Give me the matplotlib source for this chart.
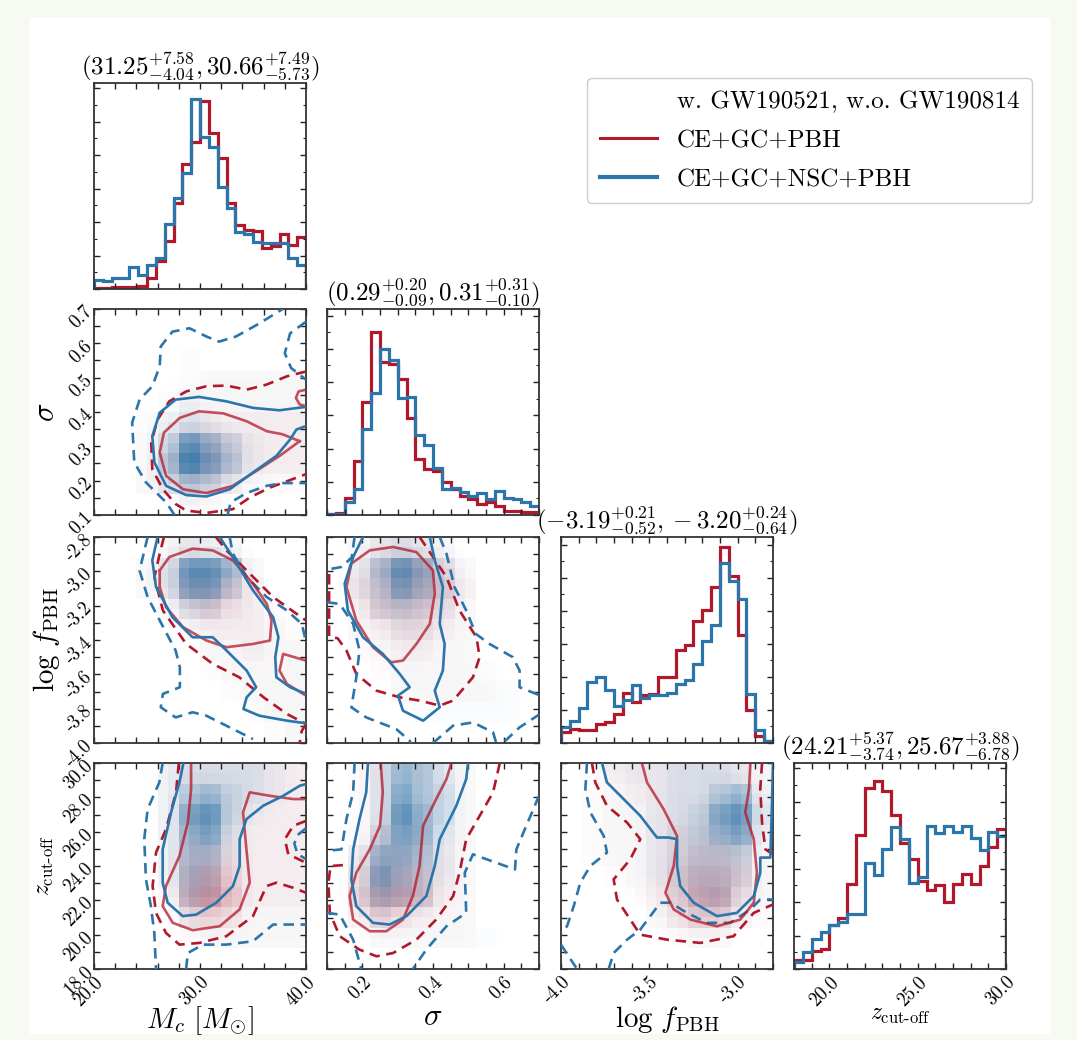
import numpy as np
import matplotlib
matplotlib.use("Agg")
import matplotlib.pyplot as plt
from matplotlib.colors import LinearSegmentedColormap, to_rgb
from matplotlib.lines import Line2D
from matplotlib.patches import Rectangle
from matplotlib.ticker import FixedLocator, FuncFormatter, MaxNLocator, AutoMinorLocator

plt.rcParams['font.family'] = 'serif'
plt.rcParams['font.serif'] = ['cmr10', 'DejaVu Serif']
plt.rcParams['mathtext.fontset'] = 'cm'
plt.rcParams['axes.unicode_minus'] = False

RED = '#b2182b'
BLUE = '#2b75aa'

# ---------------- parameters ----------------
PARAMS = ['mc', 'sig', 'logf', 'z']
LIMS = {'mc': (20.0, 40.0), 'sig': (0.1, 0.7), 'logf': (-4.0, -2.8), 'z': (18.0, 30.0)}
TICK_STEP = {'mc': 2.0, 'sig': 0.05, 'logf': 0.1, 'z': 1.0}
XLABELS_AT = {'mc': [20, 30, 40], 'sig': [0.2, 0.4, 0.6], 'logf': [-4.0, -3.5, -3.0], 'z': [20, 25, 30]}
YLABELS_AT = {'sig': [0.1, 0.2, 0.3, 0.4, 0.5, 0.6, 0.7],
              'logf': [-2.8, -3.0, -3.2, -3.4, -3.6, -3.8, -4.0],
              'z': [18, 20, 22, 24, 26, 28, 30]}
FMT = {'mc': '{:.1f}', 'sig': '{:.1f}', 'logf': '{:.1f}', 'z': '{:.1f}'}
AXLABEL = {'mc': r'$M_c\ [M_{\odot}]$', 'sig': r'$\sigma$',
           'logf': r'$\log\, f_{\rm PBH}$', 'z': r'$z_{\text{cut-off}}$'}
AXLABEL_SIZE = {'mc': 21, 'sig': 22, 'logf': 21, 'z': 17}
YLABEL_X = {'sig': -0.16, 'logf': -0.15, 'z': -0.18}

# medians and errors (red, blue)
TITLE_VALS = {
    'mc': [(31.25, 7.58, 4.04), (30.66, 7.49, 5.73)],
    'sig': [(0.29, 0.20, 0.09), (0.31, 0.31, 0.10)],
    'logf': [(-3.19, 0.21, 0.52), (-3.20, 0.24, 0.64)],
    'z': [(24.21, 5.37, 3.74), (25.67, 3.88, 6.78)],
}

# ---------------- 1D histograms (24 bins over the axis range) ----------------
MC_RED = [3, 3, 5, 5, 5, 8, 33, 83, 143, 258, 373, 438, 561, 465, 390, 258,
          190, 176, 173, 123, 128, 163, 130, 155]
MC_BLUE = [28, 23, 33, 33, 65, 43, 73, 93, 195, 273, 345, 568, 455, 425, 305, 243,
           170, 163, 140, 138, 136, 136, 93, 73]
SIG_RED = [3, 5, 50, 163, 340, 550, 460, 453, 408, 293, 168, 138, 133, 98, 78, 58,
           48, 33, 38, 26, 13, 13, 10, 10]
SIG_BLUE = [3, 3, 38, 78, 258, 368, 500, 466, 351, 355, 241, 211, 141, 78, 80, 70,
            56, 66, 48, 71, 51, 48, 38, 26]
LOGF_RED = [33, 43, 40, 38, 56, 63, 88, 150, 123, 146, 148, 200, 200, 281, 296, 370,
            403, 472, 593, 506, 328, 100, 20, 6]
LOGF_BLUE = [48, 66, 106, 183, 200, 160, 113, 130, 176, 136, 145, 145, 151, 178, 191, 238,
             308, 358, 543, 490, 436, 148, 38, 6]
Z_RED = [27, 27, 55, 60, 130, 153, 255, 400, 540, 560, 532, 460, 375, 327, 262, 235,
         250, 200, 255, 283, 255, 308, 365, 417]
Z_BLUE = [20, 50, 90, 110, 130, 140, 165, 165, 317, 280, 357, 423, 387, 257, 275, 427,
          405, 427, 410, 427, 390, 355, 410, 397]
HISTS = {'mc': (MC_RED, MC_BLUE), 'sig': (SIG_RED, SIG_BLUE),
         'logf': (LOGF_RED, LOGF_BLUE), 'z': (Z_RED, Z_BLUE)}
HIST_TOP = {'mc': 615, 'sig': 620, 'logf': 623, 'z': 615}

# ---------------- 2D shading (10x10 cells, top row first, levels 0-9) ----------------
MS_BLUE_D = ["0000000000", "0000000000", "0000100000", "0000111111", "0001211111",
             "0012321111", "0014864211", "0015975211", "0013542100", "0000100000"]
MS_RED_D = ["0000000000", "0000000000", "0000000000", "0000011111", "0000111111",
            "0001222222", "0012443222", "0013553222", "0012332111", "0000110000"]
ML_BLUE_D = ["0001221000", "0013886100", "0013774100", "0001331100", "0000111110",
             "0000011111", "0000001111", "0000000111", "0000000011", "0000000001"]
ML_RED_D = ["0001211000", "0012443100", "0012554200", "0001343210", "0000122211",
            "0000011211", "0000011111", "0000001111", "0000000111", "0000000011"]
SL_BLUE_D = ["0123210000", "0258631000", "0247531000", "0134321000", "0112211000",
             "0011111000", "0001111100", "0001111110", "0000111110", "0000000000"]
SL_RED_D = ["0122210000", "0245531000", "0345542000", "0244431000", "0123321000",
            "0112211000", "0011111000", "0001111100", "0000000000", "0000000000"]
MZ_BLUE_D = ["0002333321", "0002564321", "0002784211", "0002673111", "0002552111",
             "0002541111", "0001431111", "0000211111", "0000011111", "0000000000"]
MZ_RED_D = ["0001222222", "0001222222", "0001332222", "0001332222", "0001443222",
            "0001564222", "0001675222", "0000343111", "0000111111", "0000000000"]
SZ_BLUE_D = ["0036531000", "0037541000", "0038641000", "0047631000", "0266521000",
             "0275421000", "0254311000", "0121111000", "0011111100", "0000000000"]
SZ_RED_D = ["0122211000", "0122211000", "0123211000", "0133311000", "0244321000",
            "0355421000", "0466521000", "0243211000", "0011111000", "0000000000"]
LZ_BLUE_D = ["0012233321", "0011233562", "0011234783", "0011234672", "0011234441",
             "0001234431", "0000123421", "0000112210", "0000001100", "0000000000"]
LZ_RED_D = ["0122222221", "0112222221", "0111222331", "0111233331", "0111234431",
            "0011245541", "0001246631", "0000134421", "0000011100", "0000000000"]

# ---------------- contour lines (data coordinates) ----------------
# Mc - sigma
MS_B_SOLID = [(40, 0.415), (37.5, 0.405), (35.0, 0.412), (32.5, 0.431), (29.9, 0.444), (27.7, 0.436),
              (26.2, 0.398), (25.5, 0.33), (25.7, 0.253), (26.8, 0.185), (28.7, 0.158), (30.6, 0.154),
              (32.8, 0.175), (35.0, 0.224), (37.2, 0.272), (38.5, 0.32), (39.1, 0.349), (40, 0.359)]
MS_R_SOLID = [(39.4, 0.315), (37.8, 0.335), (36.3, 0.344), (34.4, 0.373), (32.2, 0.396), (29.9, 0.402),
              (28.1, 0.383), (26.6, 0.34), (26.2, 0.282), (26.8, 0.214), (28.4, 0.175), (30.6, 0.164),
              (33.1, 0.185), (35.3, 0.228), (37.5, 0.272), (39.4, 0.315)]
MS_R_SOLID2 = [(40, 0.465), (39.3, 0.46), (39.05, 0.441), (39.4, 0.422), (40, 0.417)]
MS_B_DASH = [(27.6, 0.1), (26.8, 0.137), (24.9, 0.195), (23.8, 0.253), (23.6, 0.369), (24.3, 0.436),
             (25.5, 0.475), (26.2, 0.533), (26.3, 0.591), (27.4, 0.634), (29.0, 0.644), (30.6, 0.62),
             (31.8, 0.605), (33.4, 0.62), (35.6, 0.658), (37.8, 0.7)]
MS_B_DASH2 = [(40, 0.663), (38.5, 0.629), (38.0, 0.571), (38.6, 0.528), (40, 0.494)]
MS_B_DASH3 = [(32.6, 0.1), (32.9, 0.137), (34.4, 0.164), (36.3, 0.185), (37.8, 0.193), (40, 0.193)]
MS_R_DASH = [(40, 0.518), (38.2, 0.504), (36.3, 0.48), (34.4, 0.465), (32.5, 0.477), (30.6, 0.475),
             (28.7, 0.46), (27.1, 0.431), (26.0, 0.378), (25.4, 0.311), (25.5, 0.233), (26.5, 0.175),
             (27.7, 0.132), (28.7, 0.113), (30.6, 0.106), (33.1, 0.117), (34.7, 0.151), (36.6, 0.18),
             (40, 0.219)]

# Mc - log f
ML_B_SOLID = [(26.0, -2.8), (25.5, -2.936), (25.85, -3.091), (27.4, -3.267), (29.3, -3.384), (31.2, -3.384),
              (32.5, -3.461), (34.4, -3.578), (35.3, -3.675), (34.4, -3.734), (34.1, -3.802), (35.6, -3.841),
              (38.2, -3.87), (40, -3.885)]
ML_B_SOLID2 = [(31.85, -2.8), (33.1, -2.917), (35.0, -3.111), (36.9, -3.267), (37.4, -3.384), (37.1, -3.5),
               (37.2, -3.617), (38.5, -3.675), (40, -3.714)]
ML_R_SOLID = [(26.2, -2.995), (27.1, -2.917), (29.3, -2.868), (31.2, -2.878), (33.1, -2.936), (35.0, -3.072),
              (36.3, -3.189), (36.75, -3.286), (36.6, -3.403), (35.0, -3.423), (32.5, -3.442), (30.6, -3.403),
              (28.4, -3.325), (26.8, -3.209), (26.2, -3.092), (26.2, -2.995)]
ML_R_SOLID2 = [(40, -3.52), (37.85, -3.481), (37.5, -3.578), (38.2, -3.656), (40, -3.724)]
ML_B_DASH = [(25.06, -2.8), (24.3, -2.995), (25.06, -3.15), (26.2, -3.286), (27.7, -3.461), (28.1, -3.559),
             (28.1, -3.675), (26.5, -3.714), (26.3, -3.792), (27.7, -3.851), (29.3, -3.821), (30.6, -3.841),
             (32.8, -3.909), (35.0, -3.977)]
ML_B_DASH2 = [(32.8, -2.8), (33.1, -2.897), (34.4, -3.033), (36.3, -3.15), (38.2, -3.228), (39.6, -3.306),
              (39.9, -3.384)]
ML_R_DASH = [(26.6, -2.8), (26.2, -2.897), (25.7, -3.033), (26.5, -3.228), (28.7, -3.423), (31.2, -3.539),
             (33.7, -3.617), (36.0, -3.734), (38.2, -3.831), (40, -3.889)]
ML_R_DASH2 = [(31.5, -2.8), (32.5, -2.878), (34.4, -2.995), (36.9, -3.15), (39.1, -3.247), (40, -3.286)]
ML_R_DASH3 = [(40, -3.89), (39.6, -3.93), (39.4, -4.0)]

# sigma - log f
SL_B_SOLID = [(0.202, -2.8), (0.174, -2.917), (0.15, -3.072), (0.159, -3.228), (0.202, -3.384), (0.258, -3.481),
              (0.306, -3.598), (0.334, -3.675), (0.301, -3.724), (0.315, -3.812), (0.372, -3.87), (0.419, -3.792),
              (0.405, -3.695), (0.428, -3.578), (0.433, -3.423), (0.419, -3.306), (0.428, -3.092), (0.405, -2.936),
              (0.391, -2.8)]
SL_R_SOLID = [(0.155, -3.092), (0.169, -2.955), (0.221, -2.878), (0.287, -2.858), (0.353, -2.888), (0.4, -2.995),
              (0.405, -3.131), (0.391, -3.306), (0.353, -3.423), (0.315, -3.52), (0.282, -3.53), (0.23, -3.442),
              (0.183, -3.286), (0.155, -3.092)]
SL_R_DASH = [(0.362, -2.8), (0.381, -2.858), (0.438, -3.033), (0.475, -3.228), (0.523, -3.384), (0.532, -3.5),
             (0.513, -3.617), (0.457, -3.753), (0.419, -3.782), (0.362, -3.753), (0.306, -3.734), (0.24, -3.695),
             (0.183, -3.598), (0.155, -3.461), (0.13, -3.39), (0.106, -3.38), (0.106, -3.0), (0.1, -2.99)]
SL_B_DASH = [(0.178, -2.8), (0.17, -2.92), (0.14, -2.975), (0.1, -2.99)]
SL_B_DASH2 = [(0.1, -3.18), (0.136, -3.19), (0.174, -3.306), (0.192, -3.461), (0.183, -3.617), (0.169, -3.792),
              (0.211, -3.851), (0.296, -3.919), (0.334, -3.987), (0.337, -4.0)]
SL_B_DASH3 = [(0.4, -4.0), (0.457, -3.899), (0.513, -3.88), (0.57, -3.938), (0.579, -4.0)]
SL_B_DASH4 = [(0.419, -2.8), (0.438, -2.897), (0.461, -3.092), (0.494, -3.228), (0.521, -3.364), (0.56, -3.423),
              (0.626, -3.5), (0.645, -3.578), (0.645, -3.675), (0.692, -3.714), (0.7, -3.72)]
SL_B_DASH5 = [(0.603, -3.99), (0.645, -3.909), (0.7, -3.835)]

# Mc - z
MZ_B_SOLID = [(28.44, 30), (28.06, 28.87), (27.27, 27.12), (26.48, 24.97), (26.48, 23.03), (26.95, 21.86),
              (28.37, 21.08), (29.64, 21.17), (31.53, 21.86), (33.11, 22.83), (33.74, 24.0), (33.74, 25.56),
              (34.38, 26.73), (35.96, 27.51), (37.85, 28.09), (39.43, 28.68), (40, 28.77)]
MZ_R_SOLID = [(29.16, 30), (29.16, 28.48), (28.85, 26.53), (28.06, 24.58), (26.79, 22.83), (26.48, 21.66),
              (27.43, 20.69), (29.32, 20.26), (31.85, 20.49), (33.74, 21.47), (34.69, 23.03), (34.38, 24.97),
              (34.06, 27.12), (34.69, 28.29), (36.59, 28.09), (38.8, 27.9), (40, 27.9)]
MZ_R_DASH = [(28.0, 30), (27.74, 28.29), (26.79, 26.14), (25.85, 24.78), (25.53, 22.83), (25.85, 21.27),
             (26.79, 20.1), (28.06, 19.42), (29.95, 19.52), (32.48, 19.91), (35.0, 21.08), (36.27, 22.83),
             (37.22, 23.03), (38.8, 22.73), (40, 22.44)]
MZ_R_DASH2 = [(40, 26.63), (38.8, 26.34), (38.0, 25.56), (38.33, 24.68), (40, 24.19)]
MZ_B_DASH = [(26.48, 30), (26.16, 28.87), (25.06, 27.31), (24.74, 25.56), (24.9, 23.22), (25.37, 21.66),
             (25.69, 20.1), (25.85, 18.0)]
MZ_B_DASH2 = [(28.69, 18.0), (28.85, 18.93), (30.27, 19.42), (32.48, 19.42), (35.0, 19.62), (36.9, 20.59),
              (38.17, 20.59), (40, 20.59)]
MZ_B_DASH3 = [(40, 26.2), (39.2, 25.8), (38.9, 25.3), (39.2, 24.7), (40, 24.4)]

# sigma - z
SZ_B_SOLID = [(0.216, 30), (0.211, 28.29), (0.192, 26.73), (0.174, 24.97), (0.169, 23.22), (0.183, 21.66),
              (0.23, 20.69), (0.277, 20.59), (0.325, 21.08), (0.381, 22.25), (0.405, 24.0), (0.419, 25.56),
              (0.466, 27.51), (0.494, 29.06), (0.499, 30)]
SZ_R_SOLID = [(0.252, 30), (0.258, 28.29), (0.25, 26.34), (0.221, 24.97), (0.183, 23.61), (0.164, 22.25),
              (0.174, 20.88), (0.221, 20.2), (0.268, 20.2), (0.315, 20.88), (0.343, 22.25), (0.362, 24.0),
              (0.372, 26.34), (0.409, 27.9), (0.438, 29.06), (0.452, 30)]
SZ_R_DASH = [(0.589, 30), (0.57, 28.29), (0.532, 26.92), (0.494, 25.56), (0.475, 23.61), (0.457, 22.25),
             (0.409, 20.88), (0.353, 19.71), (0.287, 18.93), (0.24, 18.74), (0.192, 19.13), (0.136, 19.91),
             (0.108, 21.27), (0.104, 23.03), (0.11, 24.0), (0.145, 24.05)]
SZ_B_DASH = [(0.178, 30), (0.174, 28.29), (0.155, 26.73), (0.141, 24.97), (0.1, 24.88)]
SZ_B_DASH2 = [(0.1, 21.27), (0.136, 21.17), (0.174, 19.71), (0.197, 18.0)]
SZ_B_DASH3 = [(0.7, 28.09), (0.664, 26.34), (0.636, 24.97), (0.632, 23.8), (0.579, 24.19), (0.513, 24.68),
              (0.49, 23.61), (0.494, 21.27), (0.438, 20.49), (0.381, 19.13), (0.343, 18.0)]

# log f - z
LZ_B_SOLID = [(-3.768, 30), (-3.74, 28.87), (-3.664, 28.09), (-3.551, 26.92), (-3.457, 25.66), (-3.391, 25.66),
              (-3.343, 25.56), (-3.343, 24.0), (-3.325, 22.83), (-3.249, 21.86), (-3.117, 21.08), (-3.004, 21.27),
              (-2.909, 22.25), (-2.872, 23.61), (-2.872, 24.49), (-2.815, 24.49), (-2.806, 27.51), (-2.8, 30)]
LZ_R_SOLID = [(-3.542, 30), (-3.513, 28.87), (-3.419, 27.31), (-3.343, 25.75), (-3.362, 24.0), (-3.409, 22.44),
              (-3.362, 21.47), (-3.268, 20.88), (-3.117, 20.49), (-2.985, 20.88), (-2.909, 21.86), (-2.891, 23.61),
              (-2.909, 25.56), (-2.957, 27.12), (-2.936, 28.48), (-2.928, 30)]
LZ_R_DASH = [(-3.825, 30), (-3.806, 28.87), (-3.74, 27.51), (-3.626, 26.53), (-3.551, 25.56), (-3.608, 24.39),
             (-3.702, 23.22), (-3.683, 22.05), (-3.608, 20.88), (-3.551, 20.0), (-3.4, 19.71), (-3.211, 19.52),
             (-3.023, 19.91), (-2.909, 21.27), (-2.8, 21.76)]
LZ_R_DASH2 = [(-2.862, 30), (-2.872, 28.48), (-2.862, 26.53), (-2.843, 24.97), (-2.8, 24.68)]
LZ_B_DASH = [(-3.853, 30), (-3.862, 28.48), (-3.834, 27.12), (-3.758, 25.75), (-3.74, 24.78), (-3.834, 24.0),
             (-3.891, 23.03), (-3.928, 21.66), (-3.966, 20.49), (-4.0, 20.1)]
LZ_B_DASH2 = [(-4.0, 19.42), (-3.957, 18.74), (-3.909, 18.0)]
LZ_B_DASH3 = [(-3.73, 18.0), (-3.702, 18.93), (-3.626, 19.71), (-3.551, 20.3), (-3.438, 21.86), (-3.381, 21.86),
              (-3.287, 21.27), (-3.174, 20.69), (-3.042, 20.69), (-2.928, 21.47), (-2.872, 22.05), (-2.8, 22.05)]

PANELS = {
    (1, 0): dict(red_d=MS_RED_D, blue_d=MS_BLUE_D,
                 red_solid=[MS_R_SOLID, MS_R_SOLID2], blue_solid=[MS_B_SOLID],
                 red_dash=[MS_R_DASH], blue_dash=[MS_B_DASH, MS_B_DASH2, MS_B_DASH3]),
    (2, 0): dict(red_d=ML_RED_D, blue_d=ML_BLUE_D,
                 red_solid=[ML_R_SOLID, ML_R_SOLID2], blue_solid=[ML_B_SOLID, ML_B_SOLID2],
                 red_dash=[ML_R_DASH, ML_R_DASH2, ML_R_DASH3], blue_dash=[ML_B_DASH, ML_B_DASH2]),
    (2, 1): dict(red_d=SL_RED_D, blue_d=SL_BLUE_D,
                 red_solid=[SL_R_SOLID], blue_solid=[SL_B_SOLID],
                 red_dash=[SL_R_DASH],
                 blue_dash=[SL_B_DASH, SL_B_DASH2, SL_B_DASH3, SL_B_DASH4, SL_B_DASH5]),
    (3, 0): dict(red_d=MZ_RED_D, blue_d=MZ_BLUE_D,
                 red_solid=[MZ_R_SOLID], blue_solid=[MZ_B_SOLID],
                 red_dash=[MZ_R_DASH, MZ_R_DASH2], blue_dash=[MZ_B_DASH, MZ_B_DASH2, MZ_B_DASH3]),
    (3, 1): dict(red_d=SZ_RED_D, blue_d=SZ_BLUE_D,
                 red_solid=[SZ_R_SOLID], blue_solid=[SZ_B_SOLID],
                 red_dash=[SZ_R_DASH], blue_dash=[SZ_B_DASH, SZ_B_DASH2, SZ_B_DASH3]),
    (3, 2): dict(red_d=LZ_RED_D, blue_d=LZ_BLUE_D,
                 red_solid=[LZ_R_SOLID], blue_solid=[LZ_B_SOLID],
                 red_dash=[LZ_R_DASH, LZ_R_DASH2], blue_dash=[LZ_B_DASH, LZ_B_DASH2, LZ_B_DASH3]),
}

LEGEND_LABELS = ['w. GW190521, w.o. GW190814', 'CE+GC+PBH', 'CE+GC+NSC+PBH']

# ---------------- layout (pixels) ----------------
W, H = 1077, 1040
COL_LEFT = [94, 327, 561, 794]
ROW_TOP = [83, 309, 537, 763]
AX_W, AX_H = 212, 206


def density_cmap(color, amax, gamma=1.6):
    r, g, b = to_rgb(color)
    lev = np.linspace(0, 1, 64)
    cols = [(r, g, b, amax * v ** gamma) for v in lev]
    return LinearSegmentedColormap.from_list('d', cols)


def shading(rows):
    # read-off cells, shown on the 20-bin grid of the original with a light smoothing
    g = np.array([[int(c) for c in row] for row in rows], float)
    g = np.kron(g, np.ones((2, 2)))
    p = np.pad(g, 1, mode='edge')
    s = sum(p[1 + dy:1 + dy + g.shape[0], 1 + dx:1 + dx + g.shape[1]]
            for dy in (-1, 0, 1) for dx in (-1, 0, 1)) / 9.0
    return 0.5 * g + 0.5 * s


def fmt_title(vals):
    parts = []
    for m, up, lo in vals:
        parts.append(r'%.2f^{+%.2f}_{-%.2f}' % (m, up, lo))
    return r'$(' + ', '.join(parts) + r')$'


def set_ticks(axis, p, labels_at, show):
    lo, hi = LIMS[p]
    step = TICK_STEP[p]
    ticks = np.arange(lo, hi + step / 2, step)
    axis.set_major_locator(FixedLocator(ticks))

    def f(v, pos):
        if show and any(abs(v - l) < 1e-6 for l in labels_at):
            return FMT[p].format(v)
        return ''
    axis.set_major_formatter(FuncFormatter(f))


fig = plt.figure(figsize=(W / 100, H / 100), dpi=100)
fig.patch.set_facecolor('#f6faf2')
fig.patches.append(Rectangle((30 / W, 1 - 1034 / H), (1050 - 30) / W, (1034 - 18) / H,
                             transform=fig.transFigure, facecolor='white', edgecolor='none', zorder=-10))

n = len(PARAMS)
for i in range(n):
    for j in range(i + 1):
        left = COL_LEFT[j] / W
        bottom = 1 - (ROW_TOP[i] + AX_H) / H
        ax = fig.add_axes([left, bottom, AX_W / W, AX_H / H])
        px, py = PARAMS[j], PARAMS[i]
        ax.set_xlim(*LIMS[px])

        if i == j:
            edges = np.linspace(LIMS[px][0], LIMS[px][1], len(HISTS[px][0]) + 1)
            red, blue = HISTS[px]
            ax.stairs(red, edges, color=RED, lw=2.3)
            ax.stairs(blue, edges, color=BLUE, lw=2.3)
            ax.set_ylim(0, HIST_TOP[px])
            ax.yaxis.set_major_locator(MaxNLocator(7))
            ax.yaxis.set_minor_locator(AutoMinorLocator(2))
            ax.set_yticklabels([])
            ax.set_title(fmt_title(TITLE_VALS[px]), fontsize=18, pad=3)
        else:
            ax.set_ylim(*LIMS[py])
            pnl = PANELS[(i, j)]
            ext = [LIMS[px][0], LIMS[px][1], LIMS[py][0], LIMS[py][1]]
            for key, col, amax in (('red_d', RED, 0.75), ('blue_d', BLUE, 0.95)):
                ax.imshow(shading(pnl[key]), extent=ext, origin='upper', aspect='auto',
                          interpolation='nearest', cmap=density_cmap(col, amax),
                          vmin=0, vmax=9, zorder=1)
            for seg in pnl['red_dash']:
                xs, ys = zip(*seg)
                ax.plot(xs, ys, color=RED, lw=1.9, ls=(0, (4, 2.5)), zorder=3)
            for seg in pnl['blue_dash']:
                xs, ys = zip(*seg)
                ax.plot(xs, ys, color=BLUE, lw=1.9, ls=(0, (4, 2.5)), zorder=3)
            for seg in pnl['red_solid']:
                xs, ys = zip(*seg)
                ax.plot(xs, ys, color=RED, lw=1.9, alpha=0.75, zorder=4)
            for seg in pnl['blue_solid']:
                xs, ys = zip(*seg)
                ax.plot(xs, ys, color=BLUE, lw=1.9, zorder=5)
            set_ticks(ax.yaxis, py, YLABELS_AT.get(py, []), j == 0)
            if j == 0:
                for lab in ax.get_yticklabels():
                    lab.set_rotation(45)
                    lab.set_ha('right')
                    lab.set_va('center')
                    lab.set_rotation_mode('anchor')
                ax.set_ylabel(AXLABEL[py], fontsize=AXLABEL_SIZE[py])
                ax.yaxis.set_label_coords(YLABEL_X[py], 0.5)

        set_ticks(ax.xaxis, px, XLABELS_AT[px], i == n - 1)
        if i == n - 1:
            for lab in ax.get_xticklabels():
                lab.set_rotation(45)
                lab.set_ha('right')
                lab.set_va('top')
                lab.set_rotation_mode('anchor')
            ax.set_xlabel(AXLABEL[px], fontsize=AXLABEL_SIZE[px])
            ax.xaxis.set_label_coords(0.5, -0.17)

        ax.tick_params(which='both', direction='in', top=True, right=True,
                       labelsize=13.5, color='#222222', pad=3)
        ax.tick_params(which='major', length=4.5, width=1.0)
        ax.tick_params(which='minor', length=2.5, width=0.8)
        for s in ax.spines.values():
            s.set_linewidth(1.3)
            s.set_color('#333333')

handles = [Line2D([], [], color='none'),
           Line2D([], [], color=RED, lw=2.2),
           Line2D([], [], color=BLUE, lw=3.0)]
fig.legend(handles, LEGEND_LABELS, loc='upper right', bbox_to_anchor=(1032 / W, 1 - 78 / H),
           borderaxespad=0, fontsize=18, frameon=True, fancybox=True, edgecolor='#cccccc',
           framealpha=1, handlelength=2.3, handletextpad=0.8, labelspacing=0.65, borderpad=0.5)

fig.savefig('out.png', dpi=100, facecolor=fig.get_facecolor())
